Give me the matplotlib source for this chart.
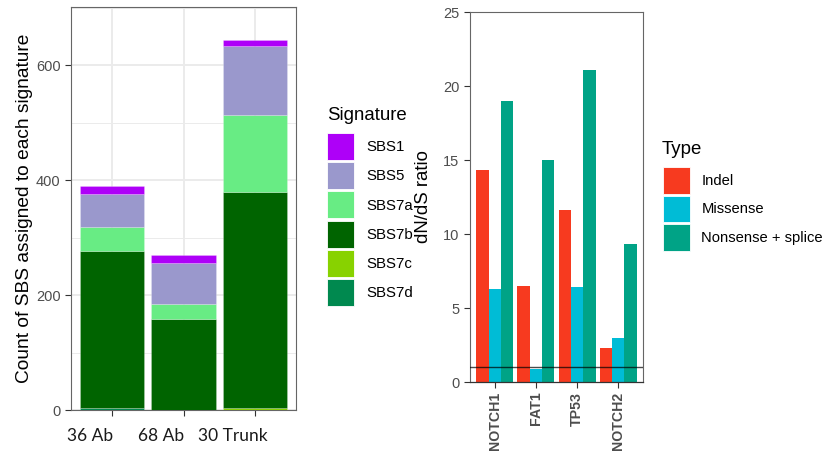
import numpy as np
import matplotlib
matplotlib.use('Agg')
import matplotlib.pyplot as plt
import matplotlib.transforms as mtransforms
from matplotlib.patches import Patch
from matplotlib.ticker import MultipleLocator

plt.rcParams['font.family'] = ['Liberation Sans', 'DejaVu Sans']

# left panel: SBS counts per sample
samples = ['36 Ab', '68 Ab', '30 Trunk']
signatures = ['SBS1', 'SBS5', 'SBS7a', 'SBS7b', 'SBS7c', 'SBS7d']
sbs1 = [14, 14, 9]
sbs5 = [58, 70, 120]
sbs7a = [41, 26, 134]
sbs7b = [273, 159, 377]
sbs7c = [0, 0, 3]
sbs7d = [4, 0, 0]
sig_colors = ['#AE00F8', '#9A98CC', '#68EC84', '#006400', '#88D200', '#00894F']

# right panel: dN/dS ratios
genes = ['NOTCH1', 'FAT1', 'TP53', 'NOTCH2']
types = ['Indel', 'Missense', 'Nonsense + splice']
indel = [14.3, 6.5, 11.6, 2.3]
missense = [6.3, 0.85, 6.4, 2.95]
nonsense = [19.0, 15.0, 21.1, 9.3]
type_colors = ['#F73A1F', '#00BCD6', '#00A386']

fig = plt.figure(figsize=(8.23, 4.53), dpi=100)

# ---- left stacked bars
ax1 = fig.add_axes([0.0863, 0.0949, 0.2734, 0.8896])
values = {'SBS1': sbs1, 'SBS5': sbs5, 'SBS7a': sbs7a,
          'SBS7b': sbs7b, 'SBS7c': sbs7c, 'SBS7d': sbs7d}
x = np.arange(len(samples))
bottom = np.zeros(len(samples))
for sig in reversed(signatures):
    col = sig_colors[signatures.index(sig)]
    v = np.array(values[sig], dtype=float)
    ax1.bar(x, v, 0.9, bottom=bottom, color=col, edgecolor=(1, 1, 1, 0.35),
            linewidth=0.4, zorder=3)
    bottom += v

ax1.set_xlim(-0.58, 2.58)
ax1.set_ylim(0, 701)
ax1.yaxis.set_major_locator(MultipleLocator(200))
ax1.yaxis.set_minor_locator(MultipleLocator(100))
ax1.grid(which='major', color='#EBEBEB', linewidth=1.4, zorder=0)
ax1.grid(which='minor', color='#EBEBEB', linewidth=0.7, zorder=0)
ax1.set_axisbelow(True)
ax1.set_xticks(x)
ax1.set_xticklabels([])
# sample names sit a bit left of their ticks in the original
shift = mtransforms.ScaledTranslation(-22 / 100, 0, fig.dpi_scale_trans)
for xi, name in zip(x, samples):
    ax1.text(xi, -0.0635, name, family='Lato', fontsize=12.5, color='#1A1A1A',
             ha='center', va='center',
             transform=ax1.get_xaxis_transform() + shift)
ax1.tick_params(axis='y', which='minor', length=0)
ax1.tick_params(axis='both', which='major', length=4, color='#333333',
                labelsize=10.5, labelcolor='#4D4D4D')
for s in ax1.spines.values():
    s.set_color('#666666')
    s.set_linewidth(0.8)
ax1.set_ylabel('Count of SBS assigned to each signature', fontsize=13.8,
               color='black', labelpad=2)

h1 = [Patch(facecolor=c, edgecolor='white', linewidth=0.6) for c in sig_colors]
fig.legend(h1, signatures, loc='upper left', bbox_to_anchor=(0.3973, 0.7064),
           frameon=False, fontsize=10.8, handlelength=1.8, handleheight=2.4,
           labelspacing=0.14, handletextpad=0.8, borderpad=0, borderaxespad=0)
fig.text(0.3973, 1 - 115 / 453, 'Signature', fontsize=13.4, va='center',
         ha='left')

# ---- right grouped bars
ax2 = fig.add_axes([0.5711, 0.1567, 0.2102, 0.8168])
xg = np.arange(len(genes))
for i, (vals, col) in enumerate(zip([indel, missense, nonsense], type_colors)):
    ax2.bar(xg + (i - 1) * 0.3, vals, 0.3, color=col, zorder=2)
ax2.axhline(1, color='black', alpha=0.7, linewidth=1.0, zorder=3)
ax2.set_xlim(-0.6, 3.6)
ax2.set_ylim(0, 25)
ax2.yaxis.set_major_locator(MultipleLocator(5))
ax2.set_xticks(xg)
ax2.set_xticklabels(genes, rotation=90, fontweight='bold', fontsize=10.2,
                    color='#4D4D4D')
ax2.tick_params(axis='both', length=4, color='#333333', labelsize=10.5,
                labelcolor='#4D4D4D')
ax2.tick_params(axis='x', labelsize=10.2, pad=3)
for k in ['left', 'top', 'right']:
    ax2.spines[k].set_color('#666666')
    ax2.spines[k].set_linewidth(0.8)
ax2.spines['bottom'].set_color('#333333')
ax2.spines['bottom'].set_linewidth(0.9)
ax2.set_ylabel('dN/dS ratio', fontsize=13.4, labelpad=8)

h2 = [Patch(facecolor=c, edgecolor='white', linewidth=0.6) for c in type_colors]
fig.legend(h2, types, loc='upper left', bbox_to_anchor=(0.8056, 0.6313),
           frameon=False, fontsize=10.6, handlelength=1.8, handleheight=2.4,
           labelspacing=0.14, handletextpad=0.8, borderpad=0, borderaxespad=0)
fig.text(0.8044, 1 - 150 / 453, 'Type', fontsize=13.4, va='center', ha='left')

fig.savefig('out.png', dpi=100)
